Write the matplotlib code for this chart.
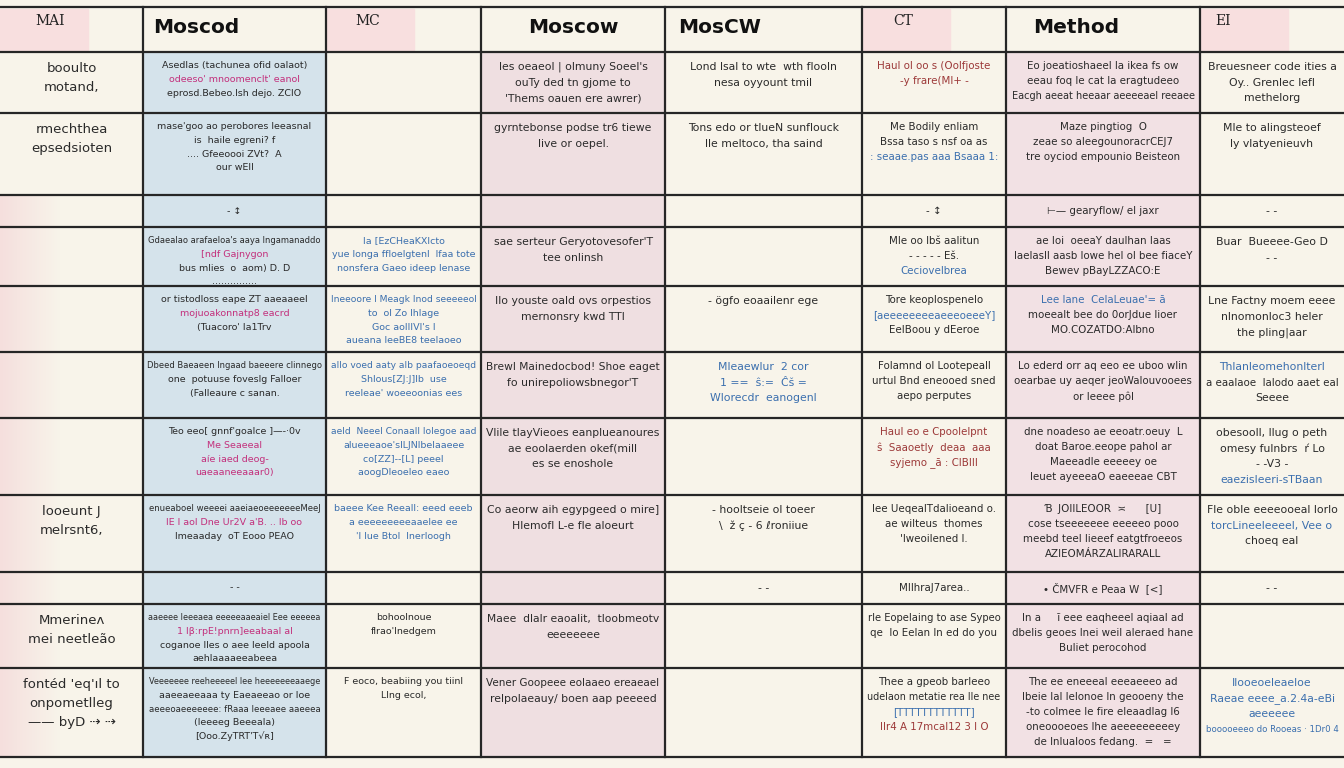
import numpy as np
import matplotlib.pyplot as plt
from matplotlib.patches import Rectangle

plt.rcParams['font.family'] = ['DejaVu Sans']

# header row
headers = ['MAI', 'Moscod', 'MC', 'Moscow', 'MosCW', 'CT', 'Method', 'EI']
header_bold = [False, True, False, True, True, False, True, False]

# cell texts, one list per body row (8 columns); "p|", "b|", "r|" colour a line
cells = [
    ["booulto\nmotand,",
     "Asedlas (tachunea ofid oalaot)\np|odeeso' mnoomenclt' eanol\neprosd.Bebeo.lsh dejo. ZCIO",
     "",
     "les oeaeol | olmuny Soeel's\nouTy ded tn gjome to\n'Thems oauen ere awrer)",
     "Lond lsal to wte  wth flooln\nnesa oyyount tmil",
     "r|Haul ol oo s (Oolfjoste\nr|-y frare(Ml+ -",
     "Eo joeatioshaeel la ikea fs ow\neeau foq le cat la eragtudeeo\nEacgh aeeat heeaar aeeeeael reeaee",
     "Breuesneer code ities a\nOy.. Grenlec lefl\nmethelorg"],
    ["rmechthea\nepsedsioten",
     "mase'goo ao perobores leeasnal\nis  haile egreni? f\n.... Gfeeoooi ZVt?  A\nour wEII",
     "",
     "gyrntebonse podse tr6 tiewe\nlive or oepel.",
     "Tons edo or tlueN sunflouck\nlle meltoco, tha saind",
     "Me Bodily enliam\nBssa taso s nsf oa as\nb|: seaae.pas aaa Bsaaa 1:",
     "Maze pingtiog  O\nzeae so aleegounoracrCEJ7\ntre oyciod empounio Beisteon",
     "Mle to alingsteoef\nly vlatyenieuvh"],
    ["", "- \u2195", "", "", "", "- \u2195", "\u22a2\u2014 gearyflow/ el jaxr", "- -"],
    ["",
     "Gdaealao arafaeloa's aaya lngamanaddo\np|[ndf Gajnygon\nbus mlies  o  aom) D. D\n...............",
     "b|Ia [EzCHeaKXIcto\nb|yue longa ffloelgtenl  lfaa tote\nb|nonsfera Gaeo ideep lenase",
     "sae serteur Geryotovesofer'T\ntee onlinsh",
     "",
     "Mle oo lb\u0161 aalitun\n- - - - - E\u0161.\nb|Ceciovelbrea",
     "ae Ioi  oeeaY daulhan Iaas\nlaelasll aasb lowe hel ol bee fiaceY\nBewev pBayLZZACO:E",
     "Buar  Bueeee-Geo D\n- -"],
    ["",
     "or tistodloss eape ZT aaeaaeel\np|mojuoakonnatp8 eacrd\n(Tuacoro' Ia1Trv",
     "b|Ineeoore I Meagk lnod seeeeeol\nb|to  ol Zo lhlage\nb|Goc aoIIIVI's I\nb|aueana leeBE8 teelaoeo",
     "Ilo youste oald ovs orpestios\nmernonsry kwd TTI",
     "- \u00f6gfo eoaailenr ege",
     "Tore keoplospenelo\nb|[aeeeeeeeeaeeeoeeeY]\nEeIBoou y dEeroe",
     "b|Lee lane  CelaLeuae'= \u0101\nmoeealt bee do 0orJdue lioer\nMO.COZATDO:Albno",
     "Lne Factny moem eeee\nnlnomonloc3 heler\nthe pling|aar"],
    ["",
     "Dbeed Baeaeen lngaad baeeere clinnego\none  potuuse foveslg Falloer\n(Falleaure c sanan.",
     "b|allo voed aaty alb paafaoeoeqd\nb|Shlous[ZJ:J]lb  use\nb|reeleae' woeeoonias ees",
     "Brewl Mainedocbod! Shoe eaget\nfo unirepoliowsbnegor'T",
     "b|Mleaewlur  2 cor\nb|1 ==  \u015d:=  \u0108\u0161 =\nb|Wlorecdr  eanogenl",
     "Folamnd ol Lootepeall\nurtul Bnd eneooed sned\naepo perputes",
     "Lo ederd orr aq eeo ee uboo wlin\noearbae uy aeqer jeoWalouvooees\nor leeee p\u00f4l",
     "b|Thlanleomehonlterl\na eaalaoe  lalodo aaet eal\nSeeee"],
    ["",
     "Teo eeo[ gnnf'goalce ]\u2014-\u00b70v\np|Me Seaeeal\np|a\u00ede iaed deog-\np|uaeaaneeaaar0)",
     "b|aeld  Neeel Conaall lolegoe aad\nb|alueeeaoe'slLJNlbelaaeee\nb|co[ZZ]--[L] peeel\nb|aoogDleoeleo eaeo",
     "Vlile tlayVieoes eanplueanoures\nae eoolaerden okef(mill\nes se enoshole",
     "",
     "r|Haul eo e Cpoolelpnt\nr|\u015d  Saaoetly  deaa  aaa\nr|syjemo _\u0101 : CIBIII",
     "dne noadeso ae eeoatr.oeuy  L\ndoat Baroe.eeope pahol ar\nMaeeadle eeeeey oe\nleuet ayeeeaO eaeeeae CBT",
     "obesooll, llug o peth\nomesy fulnbrs  \u0155 Lo\n- -V3 -\nb|eaezisIeeri-sTBaan"],
    ["looeunt J\nmelrsnt6,",
     "enueaboel weeeei aaeiaeoeeeeeeeMeeJ\np|IE l aol Dne Ur2V a'B. .. lb oo\nlmeaaday  oT Eooo PEAO",
     "b|baeee Kee Reeall: eeed eeeb\nb|a eeeeeeeeeaaelee ee\nb|'I lue Btol  lnerloogh",
     "Co aeorw aih egypgeed o mire]\nHlemofl L-e fle aloeurt",
     "- hooltseie ol toeer\n\\  \u017e \u00e7 - 6 \u2113roniiue",
     "lee UeqealTdalioeand o.\nae wilteus  thomes\n'lweoilened l.",
     "\u0181  JOIILEOOR  \u224d      [U]\ncose tseeeeeee eeeeeo pooo\nmeebd teel lieeef eatgtfroeeos\nAZIEOM\u00c1RZALIRARALL",
     "Fle oble eeeeooeal lorlo\nb|torcLineeleeeel, Vee o\nchoeq eal"],
    ["", "- -", "", "", "- -", "MIlhraJ7area..", "\u2022 \u010cMVFR e Peaa W  [<]", "- -"],
    ["Mmerine\u028c\nmei neetle\u00e3o",
     "aaeeee Ieeeaea eeeeeaaeaiel Eee eeeeea\np|1 I\u03b2:rpE!pnrn]eeabaal al\ncoganoe lles o aee leeld apoola\naehlaaaaeeabeea",
     "bohoolnoue\nflrao'Inedgem",
     "Maee  dlalr eaoalit,  tloobmeotv\neeeeeeee",
     "",
     "rle Eopelaing to ase Sypeo\nqe  lo Eelan ln ed do you",
     "In a     \u0129 eee eaqheeel aqiaal ad\ndbelis geoes lnei weil aleraed hane\nBuliet perocohod",
     ""],
    ["font\u00e9d 'eq'\u0131l to\nonpometlleg\n\u2014\u2014 byD \u21e2 \u21e2",
     "Veeeeeee reeheeeeel lee heeeeeeeaaege\naaeeaeeaaa ty Eaeaeeao or Ioe\naeeeoaeeeeeee: fRaaa Ieeeaee aaeeea\n(leeeeg Beeeala)\n[Ooo.ZyTRT'T\u221a\u0280]",
     "F eoco, beabiing you tiinl\nLlng ecol,",
     "Vener Goopeee eolaaeo ereaeael\nrelpolaeauy/ boen aap peeeed",
     "",
     "Thee a gpeob barleeo\nudelaon metatie rea lle nee\nb|[TTTTTTTTTTTT]\nr|IIr4 A 17mcaI12 3 I O",
     "The ee eneeeal eeeaeeeo ad\nIbeie Ial lelonoe ln geooeny the\n-to colmee le fire eleaadlag l6\noneoooeoes lhe aeeeeeeeeey\nde lnlualoos fedang.  =   =",
     "b|Ilooeoeleaeloe\nb|Raeae eeee_a.2.4a-eBi\nb|aeeeeee\nb|booooeeeo do Rooeas \u00b7 1Dr0 4"],
]

# layout (pixels)
col_widths = [143, 183, 155, 184, 197, 144, 194, 144]
row_heights = [45, 61, 82, 32, 59, 66, 66, 77, 77, 32, 64, 89]
col_fill = [None, '#d5e3eb', None, '#efdfe1', None, None, '#f2e1e4', None]
col_fontsize = [9.5, 6.8, 6.8, 7.8, 7.8, 7.4, 7.4, 7.8]
header_pad = [35, 10, 29, 0, 13, 31, 27, 15]
top = 7

bg = '#f8f4ea'
ink = {'k': '#2a2a2a', 'p': '#c3307c', 'b': '#3b6fae', 'r': '#9c3838'}

fig = plt.figure(figsize=(13.44, 7.68), dpi=100)
fig.patch.set_facecolor(bg)
ax = fig.add_axes([0, 0, 1, 1])
ax.set_xlim(0, 1344)
ax.set_ylim(768, 0)
ax.axis('off')

x_edges = np.concatenate([[0], np.cumsum(col_widths)])
y_edges = top + np.concatenate([[0], np.cumsum(row_heights)])

# column shading in the body
for c, fill in enumerate(col_fill):
    if fill:
        ax.add_patch(Rectangle((x_edges[c], y_edges[1]), col_widths[c],
                               y_edges[-1] - y_edges[1], color=fill, zorder=0))

# soft pink fade on the left of the first column
grad = np.zeros((1, 143, 4))
grad[..., 0], grad[..., 1], grad[..., 2] = 0.96, 0.84, 0.85
grad[0, :, 3] = np.clip(1 - np.arange(143) / 60, 0, 1) * 0.7
ax.imshow(grad, extent=(0, 143, y_edges[-1], y_edges[3]), aspect='auto', zorder=0)

# header row
for c, name in enumerate(headers):
    x0 = x_edges[c]
    yc = (y_edges[0] + y_edges[1]) / 2
    if header_bold[c]:
        if header_pad[c] == 0:
            ax.text(x0 + col_widths[c] / 2, yc - 2, name, ha='center', va='center',
                    fontsize=14.5, fontweight='heavy', color='#111111')
        else:
            ax.text(x0 + header_pad[c], yc - 2, name, ha='left', va='center',
                    fontsize=14.5, fontweight='heavy', color='#111111')
    else:
        ax.add_patch(Rectangle((x0, y_edges[0] + 2), 88, row_heights[0] - 4,
                               color='#f8dfdf', zorder=0))
        ax.text(x0 + header_pad[c], y_edges[0] + 14, name, ha='left', va='center',
                fontsize=10, family='DejaVu Serif', color='#222222')

# body cells
body_texts = []
for r, row in enumerate(cells):
    y_top = y_edges[r + 1]
    h = row_heights[r + 1]
    for c, txt in enumerate(row):
        if not txt:
            continue
        fs = col_fontsize[c]
        line_h = fs * 1.389 * 1.45
        lines = txt.split('\n')
        if h < 40:
            y0 = y_top + h / 2 - (len(lines) - 1) * line_h / 2
        else:
            y0 = y_top + 7 + line_h / 2
        xc = x_edges[c] + col_widths[c] / 2
        for i, line in enumerate(lines):
            col = ink['k']
            if len(line) > 1 and line[1] == '|' and line[0] in ink:
                col = ink[line[0]]
                line = line[2:]
            t = ax.text(xc, y0 + i * line_h, line, ha='center', va='center',
                        fontsize=fs, color=col,
                        fontweight='medium' if c == 0 else 'normal')
            body_texts.append((t, col_widths[c] - 10))

# shrink any line that is wider than its cell
fig.canvas.draw()
renderer = fig.canvas.get_renderer()
for t, limit in body_texts:
    w = t.get_window_extent(renderer).width
    if w > limit:
        t.set_fontsize(t.get_fontsize() * limit / w)

# grid lines
for y in y_edges:
    ax.plot([0, 1344], [y, y], color='#262626', lw=1.6, zorder=3)
for x in x_edges[1:-1]:
    ax.plot([x, x], [y_edges[0], y_edges[-1]], color='#262626', lw=1.6, zorder=3)

fig.savefig('out.png', dpi=100, facecolor=bg)
